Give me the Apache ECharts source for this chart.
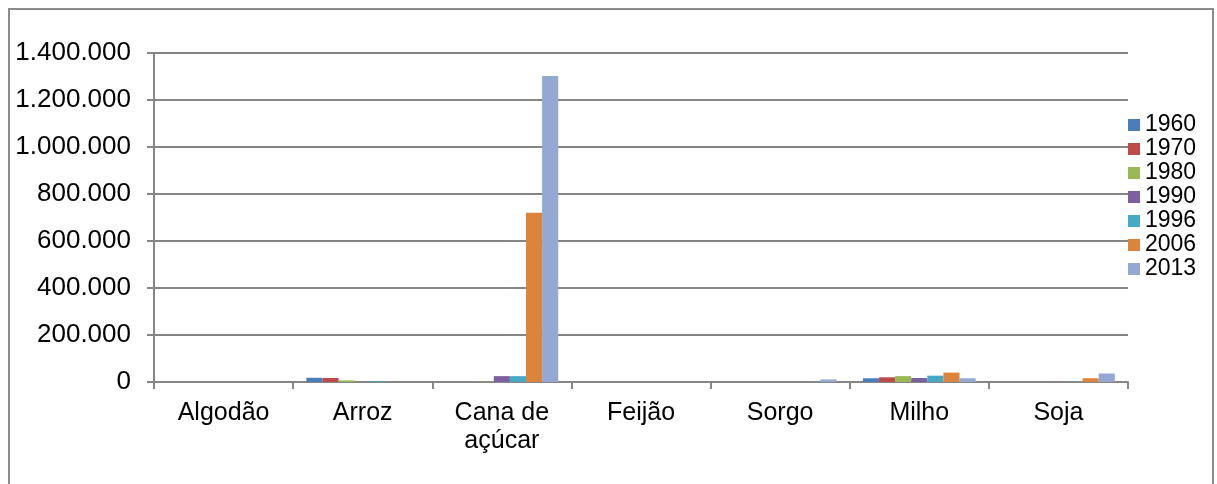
<!DOCTYPE html>
<html>
<head>
<meta charset="utf-8">
<script src="https://cdn.jsdelivr.net/npm/echarts@6/dist/echarts.min.js"></script>
<style>
  html, body { margin: 0; padding: 0; background: #fff; }
  #frame {
    position: absolute; left: 8px; top: 8px; width: 1206px; height: 480px;
    border: 2px solid #8c8c8c; border-bottom: none; box-sizing: border-box;
  }
  #chart { position: absolute; left: 0; top: 0; width: 1217px; height: 484px; }
</style>
</head>
<body>
<div id="frame"></div>
<div id="chart"></div>
<script>
  // categorias (culturas)
  const culturas = ['Algodão', 'Arroz', 'Cana de\naçúcar', 'Feijão', 'Sorgo', 'Milho', 'Soja'];
  const anos = ['1960', '1970', '1980', '1990', '1996', '2006', '2013'];

  // valores por ano, na ordem das culturas
  const v1960 = [0, 18000, 0, 0, 0, 16000, 0];
  const v1970 = [0, 17000, 0, 0, 0, 20000, 0];
  const v1980 = [0, 7000, 1000, 0, 0, 25000, 0];
  const v1990 = [0, 0, 25000, 0, 0, 17000, 0];
  const v1996 = [0, 3000, 25000, 0, 0, 27000, 1000];
  const v2006 = [0, 0, 720000, 0, 0, 40000, 16000];
  const v2013 = [0, 0, 1302000, 0, 11000, 16000, 36000];

  const valores = [v1960, v1970, v1980, v1990, v1996, v2006, v2013];
  const cores = ['#4a7ebb', '#be4b48', '#98b954', '#7d60a0', '#46aac5', '#dd843c', '#93a9d3'];

  const fmt = (v) => String(v).replace(/\B(?=(\d{3})+(?!\d))/g, '.');

  const chart = echarts.init(document.getElementById('chart'));

  chart.setOption({
    animation: false,
    textStyle: { fontFamily: 'Liberation Sans, Arial, sans-serif' },
    grid: { left: 154, right: 89, top: 53, bottom: 102 },
    legend: {
      orient: 'vertical',
      left: 1128,
      top: 113,
      padding: 0,
      itemWidth: 12,
      itemHeight: 12,
      itemGap: 0,
      icon: 'rect',
      textStyle: { fontSize: 23, color: '#000', lineHeight: 24 },
      data: anos
    },
    xAxis: {
      type: 'category',
      data: culturas,
      axisLine: { lineStyle: { color: '#868686', width: 2 } },
      axisTick: { show: true, length: 7, lineStyle: { color: '#868686', width: 2 } },
      axisLabel: { fontSize: 25, color: '#000', margin: 17, lineHeight: 28, interval: 0 }
    },
    yAxis: {
      type: 'value',
      min: 0,
      max: 1400000,
      interval: 200000,
      axisLine: { show: true, lineStyle: { color: '#868686', width: 2 } },
      axisTick: { show: true, length: 7, lineStyle: { color: '#868686', width: 2 } },
      axisLabel: { fontSize: 26, color: '#000', margin: 23, formatter: fmt },
      splitLine: { lineStyle: { color: '#868686', width: 2 } }
    },
    series: anos.map((ano, i) => ({
      name: ano,
      type: 'bar',
      data: valores[i],
      barGap: '0%',
      barCategoryGap: '19%',
      itemStyle: { color: cores[i] }
    }))
  });
</script>
</body>
</html>
